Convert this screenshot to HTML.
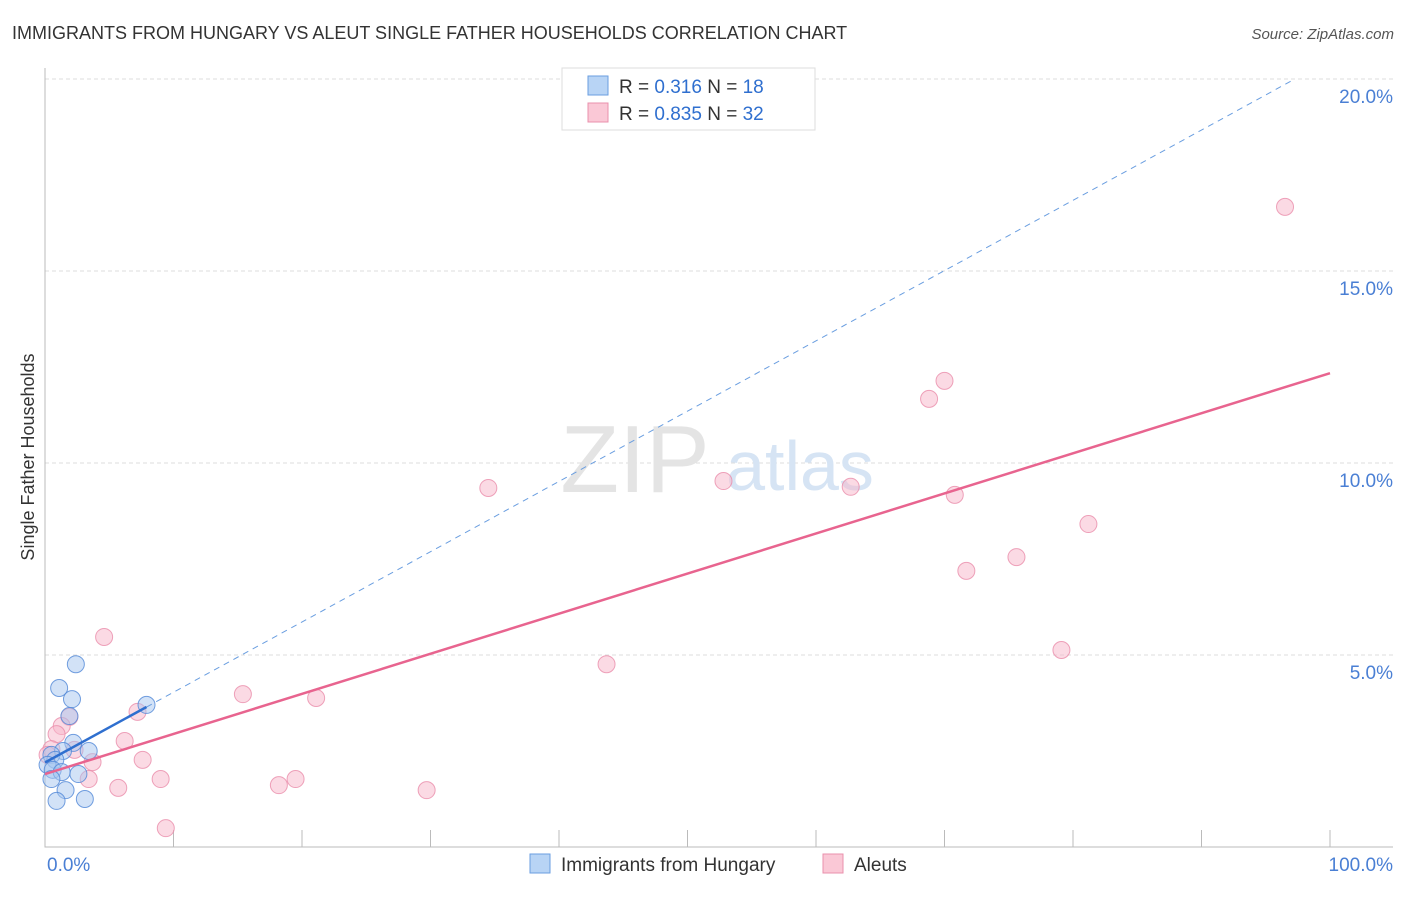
<!DOCTYPE html>
<html><head><meta charset="utf-8"><style>
body{margin:0;background:#fff;font-family:"Liberation Sans",sans-serif;}
svg text{font-family:"Liberation Sans",sans-serif;}
</style></head><body>
<svg id="c" width="1406" height="892">
<text x="12" y="39" font-size="18" fill="#333">IMMIGRANTS FROM HUNGARY VS ALEUT SINGLE FATHER HOUSEHOLDS CORRELATION CHART</text>
<text x="1394" y="39" font-size="15" fill="#555" font-style="italic" text-anchor="end">Source: ZipAtlas.com</text>
<text transform="translate(34,457) rotate(-90)" font-size="18" fill="#333" text-anchor="middle">Single Father Households</text>
<g id="grid"></g>
<text x="635" y="492" font-size="96" fill="#e4e4e4" font-family="Liberation Serif" text-anchor="middle">ZIP</text>
<text x="800" y="490" font-size="70" fill="#d6e4f4" text-anchor="middle">atlas</text>
<g id="marks"></g>
<g>
<rect x="562" y="68" width="253" height="62" fill="#fff" stroke="#ddd"/>
<rect x="588" y="76" width="20" height="19" fill="#b8d4f5" stroke="#6a9ee0"/>
<rect x="588" y="103" width="20" height="19" fill="#fac8d6" stroke="#ea90ac"/>
<text x="619" y="93" font-size="19" fill="#333">R = <tspan fill="#2f6fcf">0.316</tspan>   N = <tspan fill="#2f6fcf">18</tspan></text>
<text x="619" y="120" font-size="19" fill="#333">R = <tspan fill="#2f6fcf">0.835</tspan>   N = <tspan fill="#2f6fcf">32</tspan></text>
</g>
<g>
<rect x="530" y="854" width="20" height="19" fill="#b8d4f5" stroke="#6a9ee0"/>
<text x="561" y="871" font-size="19" fill="#333">Immigrants from Hungary</text>
<rect x="823" y="854" width="20" height="19" fill="#fac8d6" stroke="#ea90ac"/>
<text x="854" y="871" font-size="19" fill="#333">Aleuts</text>
</g>
</svg>
<script>
const yTicks=[5,10,15,20];
const yTickLabels=["5.0%","10.0%","15.0%","20.0%"];
const xTickLabels=["0.0%","100.0%"];
const hungaryX=[2.4,1.1,2.1,1.9,2.2,3.4,1.4,0.5,0.8,0.2,0.6,1.3,2.6,0.5,1.6,0.9,3.1,7.9];
const hungaryY=[4.76,4.14,3.85,3.41,2.71,2.5,2.5,2.4,2.27,2.14,2.01,1.95,1.9,1.77,1.48,1.2,1.25,3.7];
const aleutX=[96.5,70,68.8,52.8,62.7,34.5,70.8,81.2,75.6,71.7,79.1,43.7,4.6,15.4,21.1,7.2,1.9,1.3,0.9,6.2,0.5,2.3,0.2,3.7,7.6,3.4,9,5.7,18.2,19.5,29.7,9.4];
const aleutY=[16.67,12.14,11.67,9.53,9.38,9.35,9.17,8.41,7.55,7.19,5.13,4.76,5.47,3.98,3.88,3.52,3.39,3.15,2.94,2.76,2.55,2.53,2.4,2.21,2.27,1.77,1.77,1.54,1.61,1.77,1.48,0.49];
const hungaryTrend=[2.2,20.5];
const aleutTrend=[1.9,12.34];
const ns="http://www.w3.org/2000/svg";
const X=v=>45+v*12.85, Y=v=>847-v*38.4;
const grid=document.getElementById('grid'), marks=document.getElementById('marks');
function mk(tag,at,parent){const e=document.createElementNS(ns,tag);for(const k in at)e.setAttribute(k,at[k]);parent.appendChild(e);return e;}
yTicks.forEach((t,i)=>{
 const l=mk('line',{x1:45,x2:1393,y1:Y(t),y2:Y(t),stroke:'#ddd','stroke-dasharray':'4,3'},grid);
 
 
 const tx=mk('text',{x:1393,y:Y(t)+24,'font-size':19,fill:'#4a7fd4','text-anchor':'end'},grid);
 tx.textContent=yTickLabels[i];
 
 
});
const ax=mk('path',{d:'M45 68V847H1393',fill:'none',stroke:'#bbb'},grid);


for(let i=0;i<=10;i++){const t=mk('line',{x1:X(i*10),x2:X(i*10),y1:830,y2:847,stroke:'#bbb'},grid);
 
 }
[[X(0)+2,'start'],[1393,'end']].forEach((p,i)=>{const t=mk('text',{x:p[0],y:871,'font-size':19,fill:'#4a7fd4','text-anchor':p[1]},grid);t.textContent=xTickLabels[i];
 
 });
aleutX.forEach((x,i)=>{const c=mk('circle',{cx:X(x),cy:Y(aleutY[i]),r:8.5,fill:'rgba(247,182,202,0.5)',stroke:'rgba(234,140,170,0.8)'},marks);
 
 });
hungaryX.forEach((x,i)=>{const c=mk('circle',{cx:X(x),cy:Y(hungaryY[i]),r:8.5,fill:'rgba(165,198,240,0.5)',stroke:'rgba(80,135,215,0.8)'},marks);
 
 });
const hy=x=>hungaryTrend[0]+(hungaryTrend[1]-hungaryTrend[0])*x/100;
const xmax=Math.max(...hungaryX);
const d=mk('line',{x1:X(xmax),y1:Y(hy(xmax)),x2:X(97.2),y2:Y(hy(97.2)),stroke:'#6a9ee0','stroke-dasharray':'6,5','stroke-width':1},marks);


const h=mk('line',{x1:X(0),y1:Y(hy(0)),x2:X(xmax),y2:Y(hy(xmax)),stroke:'#2f6fcf','stroke-width':2.5},marks);


const a=mk('line',{x1:X(0),y1:Y(aleutTrend[0]),x2:X(100),y2:Y(aleutTrend[1]),stroke:'#e8648f','stroke-width':2.5},marks);


</script>
</body></html>
